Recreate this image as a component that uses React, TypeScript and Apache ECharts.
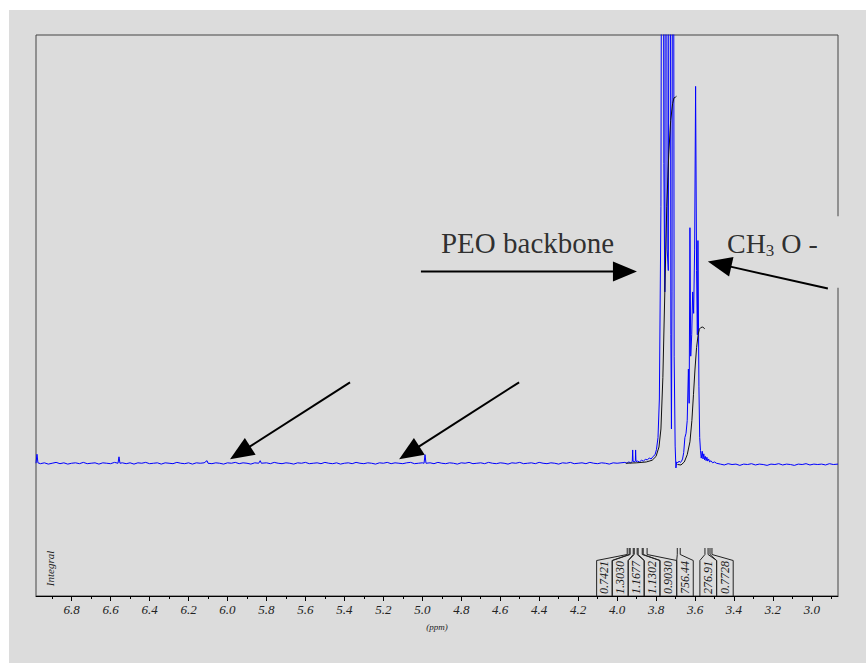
import React, { useEffect, useRef } from "react";
import * as echarts from "echarts";

// ---------------- DATA ----------------
// Spectrum baseline (ppm, intensity) left of the signals
const baselineLeft: [number, number][] = [
  [6.983, 0.0], [6.978, 2.1], [6.973, 0.1], [6.96, -0.1], [6.94, 0.1], [6.92, -0.2], [6.9, 0.0], [6.88, 0.2],
  [6.86, -0.1], [6.84, 0.1], [6.82, -0.2], [6.8, 0.0], [6.78, 0.1], [6.76, -0.1], [6.74, 0.2], [6.72, -0.1],
  [6.7, 0.0], [6.68, 0.1], [6.66, -0.2], [6.64, 0.1], [6.62, 0.0], [6.6, -0.1], [6.58, 0.2], [6.562, 0.0],
  [6.557, 1.5], [6.552, 0.0], [6.54, 0.1], [6.52, -0.1], [6.5, 0.1], [6.48, -0.2], [6.46, 0.1], [6.44, 0.0],
  [6.42, 0.2], [6.4, -0.1], [6.38, 0.0], [6.36, 0.1], [6.34, -0.2], [6.32, 0.1], [6.3, 0.0], [6.28, -0.1],
  [6.26, 0.2], [6.24, 0.0], [6.22, -0.1], [6.2, 0.1], [6.18, -0.2], [6.16, 0.1], [6.14, 0.0], [6.12, 0.1],
  [6.105, 0.6], [6.1, 0.0], [6.08, -0.1], [6.06, 0.1], [6.04, 0.0], [6.02, -0.2], [6.0, 0.1], [5.98, 0.0],
  [5.96, 0.2], [5.94, -0.1], [5.92, 0.1], [5.9, 0.0], [5.88, -0.2], [5.86, 0.1], [5.84, 0.0], [5.832, 0.6],
  [5.826, 0.0], [5.8, 0.1], [5.78, -0.1], [5.76, 0.2], [5.74, 0.0], [5.72, -0.1], [5.7, 0.1], [5.68, 0.0],
  [5.66, -0.2], [5.64, 0.1], [5.62, 0.0], [5.6, 0.2], [5.58, -0.1], [5.56, 0.0], [5.54, 0.1], [5.52, -0.1],
  [5.5, 0.2], [5.48, 0.0], [5.46, -0.1], [5.44, 0.1], [5.42, -0.2], [5.4, 0.0], [5.38, 0.1], [5.36, -0.1],
  [5.34, 0.2], [5.32, 0.0], [5.3, -0.1], [5.28, 0.1], [5.26, 0.0], [5.24, -0.2], [5.22, 0.1], [5.2, 0.0],
  [5.18, 0.2], [5.16, -0.1], [5.14, 0.1], [5.12, 0.0], [5.1, -0.1], [5.08, 0.1], [5.06, 0.2], [5.04, -0.1],
  [5.02, 0.0], [5.0, 0.1], [4.991, 0.0], [4.986, 2.0], [4.981, 0.0], [4.96, 0.1], [4.94, -0.1], [4.92, 0.2],
  [4.9, 0.0], [4.88, -0.1], [4.86, 0.1], [4.84, 0.0], [4.82, -0.2], [4.8, 0.1], [4.78, 0.0], [4.76, 0.2],
  [4.74, -0.1], [4.72, 0.0], [4.7, 0.1], [4.68, -0.1], [4.66, 0.2], [4.64, 0.0], [4.62, -0.1], [4.6, 0.1],
  [4.58, 0.0], [4.56, -0.2], [4.54, 0.1], [4.52, 0.0], [4.5, 0.2], [4.48, -0.1], [4.46, 0.0], [4.44, 0.1],
  [4.42, -0.1], [4.4, 0.2], [4.38, 0.0], [4.36, -0.1], [4.34, 0.1], [4.32, 0.0], [4.3, -0.2], [4.28, 0.1],
  [4.26, 0.0], [4.24, 0.2], [4.22, -0.1], [4.2, 0.0], [4.18, 0.1], [4.16, -0.1], [4.14, 0.2], [4.12, 0.0],
  [4.1, -0.1], [4.08, 0.1], [4.06, 0.0], [4.04, -0.2], [4.02, 0.1], [4.0, 0.0],
];

// Signal region 4.0 - 3.49 ppm
const signalRegion: [number, number][] = [
  [3.98, 0.1], [3.96, 0.2], [3.95, 0.0], [3.94, 0.3], [3.93, 0.1], [3.922, 0.4], [3.92, 3.1], [3.918, 0.5],
  [3.912, 0.3], [3.906, 0.6], [3.905, 3.1], [3.903, 0.4], [3.895, 0.5], [3.885, 0.3], [3.875, 0.7], [3.865, 0.5],
  [3.855, 0.9], [3.845, 0.8], [3.835, 1.2], [3.825, 1.0], [3.815, 1.6], [3.805, 2.0], [3.798, 3.2], [3.79, 6],
  [3.783, 15], [3.775, 60], [3.766, 260], [3.76, 70], [3.755, 40], [3.749, 260], [3.743, 50], [3.737, 45],
  [3.729, 260], [3.724, 30], [3.721, 8], [3.718, 40], [3.713, 260], [3.707, 25], [3.702, 4], [3.698, -1.1],
  [3.694, 0.3], [3.688, 0.1], [3.682, 0.5], [3.676, 0.2], [3.67, 0.4], [3.664, 1.0], [3.658, 2.5], [3.652, 6],
  [3.646, 7], [3.64, 10], [3.634, 22], [3.63, 14], [3.626, 55], [3.622, 25], [3.617, 30], [3.612, 40],
  [3.607, 35], [3.602, 50], [3.597, 88], [3.592, 45], [3.588, 30], [3.585, 52], [3.58, 18], [3.576, 6],
  [3.572, 3], [3.568, 1.2], [3.563, 2.8], [3.559, 1.0], [3.555, 2.2], [3.551, 0.8], [3.547, 1.6], [3.543, 0.6],
  [3.539, 1.4], [3.535, 0.5], [3.53, 1.0], [3.525, 0.3], [3.518, 0.6], [3.51, 0.1], [3.5, 0.3], [3.49, 0.0],
];

// Baseline right of the signals
const baselineRight: [number, number][] = [
  [3.47, -0.2], [3.45, -0.4], [3.43, -0.1], [3.41, -0.3], [3.39, -0.2], [3.37, -0.5], [3.35, -0.2], [3.33, -0.3],
  [3.31, -0.1], [3.29, -0.4], [3.27, -0.2], [3.25, -0.3], [3.23, -0.5], [3.21, -0.2], [3.19, -0.3], [3.17, -0.1],
  [3.15, -0.4], [3.13, -0.2], [3.11, -0.3], [3.09, -0.5], [3.07, -0.2], [3.05, -0.3], [3.03, -0.1], [3.01, -0.4],
  [2.99, -0.2], [2.97, -0.3], [2.95, -0.2], [2.93, -0.4], [2.91, -0.1], [2.89, -0.3], [2.866, -0.2],
];

// Integral curves (ppm, cumulative)
const integralCurve1: [number, number][] = [
  [3.955, 0], [3.9, 0.1], [3.85, 0.3], [3.82, 0.7], [3.8, 1.6], [3.785, 3.8], [3.775, 8], [3.765, 20],
  [3.755, 40], [3.745, 60], [3.735, 72], [3.725, 80], [3.715, 84], [3.708, 85.3], [3.7, 85.5], [3.695, 85.7],
];
const integralCurve2: [number, number][] = [
  [3.69, -0.3], [3.672, -0.4], [3.655, 0.3], [3.64, 2], [3.626, 5], [3.616, 10], [3.608, 16], [3.6, 22],
  [3.592, 27], [3.584, 30], [3.578, 31.3], [3.57, 31.7], [3.56, 31.8], [3.55, 31.4],
];

// Integral table: values, integration regions and label boxes (ppm)
const integralValues: number[] = [0.7421, 1.303, 1.1677, 1.1302, 0.903, 756.44, 276.91, 0.7728];
const integralRanges: [number, number][] = [
  [3.948, 3.938], [3.933, 3.917], [3.912, 3.897], [3.892, 3.871], [3.866, 3.846],
  [3.691, 3.676], [3.549, 3.533], [3.523, 3.513],
];
const integralLabelBoxes: [number, number][] = [
  [4.105, 4.025], [4.025, 3.943], [3.943, 3.861], [3.861, 3.78], [3.78, 3.694],
  [3.694, 3.609], [3.575, 3.489], [3.489, 3.404],
];

// Axis ticks
const majorTicks: number[] = [3.0, 3.2, 3.4, 3.6, 3.8, 4.0, 4.2, 4.4, 4.6, 4.8, 5.0, 5.2, 5.4, 5.6, 5.8, 6.0, 6.2, 6.4, 6.6, 6.8];
const minorTicks: number[] = [2.9, 3.1, 3.3, 3.5, 3.7, 3.9, 4.1, 4.3, 4.5, 4.7, 4.9, 5.1, 5.3, 5.5, 5.7, 5.9, 6.1, 6.3, 6.5, 6.7, 6.9];

// Annotations (ppm, intensity)
const arrows: [number, number, number, number][] = [
  [5.007, 44.8, 3.898, 44.8],
  [2.918, 40.8, 3.534, 47.1],
  [5.371, 18.9, 5.987, 0.93],
  [4.503, 18.9, 5.119, 0.93],
];
const annotationTexts: { pos: [number, number]; text: string }[] = [
  { pos: [4.904, 51.4], text: "{p|PEO backbone}" },
  { pos: [3.436, 51.4], text: "{n|CH}{s|3}{n| O -}" },
];
const coverBox: [number, number, number, number] = [3.462, 57.7, 2.825, 41.0];

const X_MIN = 2.866;
const X_MAX = 6.983;
const SERIF = "Liberation Serif";

export default function App() {
  const ref = useRef<HTMLDivElement>(null);

  useEffect(() => {
    if (!ref.current) return;
    const chart = echarts.init(ref.current, undefined, { renderer: "svg" });

    const spectrum = [...baselineLeft, ...signalRegion, ...baselineRight];

    const TICK_TOP = 0.941;
    const TICK_BOTTOM = 0.814;
    const BOX_TOP = 0.696;
    const TEXT_MID = 0.363;

    const fmtIntegral = (v: number) => (v < 1 ? v.toFixed(4) : v.toPrecision(5));

    const integralData = integralValues.map((v, i) => [
      integralRanges[i][0], integralRanges[i][1], integralLabelBoxes[i][0], integralLabelBoxes[i][1], v,
    ]);

    const gridPos = { left: 27, right: 28 };

    const option: any = {
      animation: false,
      backgroundColor: "#dcdcdc",
      textStyle: { fontFamily: SERIF },
      grid: [
        { ...gridPos, top: 25, bottom: 67, show: true, borderColor: "#444", borderWidth: 1, backgroundColor: "transparent" },
        { ...gridPos, top: 535, bottom: 67, show: false },
        { ...gridPos, top: 535, bottom: 67, show: false },
      ],
      xAxis: [
        { type: "value", gridIndex: 0, min: X_MIN, max: X_MAX, inverse: true, show: false },
        {
          type: "value", gridIndex: 1, min: X_MIN, max: X_MAX, inverse: true, position: "bottom",
          axisLine: { show: true, lineStyle: { color: "#000", width: 1 } },
          axisTick: { show: true, length: 5, lineStyle: { color: "#000" }, customValues: majorTicks },
          axisLabel: {
            show: true, customValues: majorTicks, margin: 7,
            formatter: (v: number) => `{i|${v.toFixed(1)}}`,
            rich: { i: { fontFamily: SERIF, fontStyle: "italic", fontSize: 13, color: "#222" } },
          },
          splitLine: { show: false },
          name: "(ppm)", nameLocation: "middle", nameGap: 26,
          nameTextStyle: { fontFamily: SERIF, fontStyle: "italic", fontSize: 9, color: "#222" },
        },
        {
          type: "value", gridIndex: 2, min: X_MIN, max: X_MAX, inverse: true, position: "bottom",
          axisLine: { show: false },
          axisTick: { show: true, length: 3, lineStyle: { color: "#000" }, customValues: minorTicks },
          axisLabel: { show: false },
          splitLine: { show: false },
        },
      ],
      yAxis: [
        { type: "value", gridIndex: 0, min: -31, max: 100, show: false },
        { type: "value", gridIndex: 1, min: 0, max: 1, show: false },
        { type: "value", gridIndex: 2, min: 0, max: 1, show: false },
      ],
      graphic: [
        {
          type: "text", x: 40.5, y: 558.5, rotation: Math.PI / 2, silent: true,
          style: { text: "Integral", font: `italic 11px ${SERIF}`, fill: "#222", textAlign: "center", textVerticalAlign: "middle" },
        },
      ],
      series: [
        {
          type: "line", xAxisIndex: 0, yAxisIndex: 0, data: spectrum, showSymbol: false, symbol: "none",
          lineStyle: { color: "#0000ff", width: 1 }, silent: true, clip: true, z: 3,
        },
        {
          type: "line", xAxisIndex: 0, yAxisIndex: 0, data: integralCurve1, showSymbol: false, symbol: "none",
          lineStyle: { color: "#111", width: 1 }, silent: true, z: 4,
        },
        {
          type: "line", xAxisIndex: 0, yAxisIndex: 0, data: integralCurve2, showSymbol: false, symbol: "none",
          lineStyle: { color: "#111", width: 1 }, silent: true, z: 4,
        },
        {
          type: "custom", xAxisIndex: 0, yAxisIndex: 0, clip: false, silent: true, z: 5,
          data: [coverBox],
          renderItem: (_p: any, api: any) => {
            const a = api.coord([api.value(0), api.value(1)]);
            const b = api.coord([api.value(2), api.value(3)]);
            return {
              type: "rect",
              shape: { x: a[0], y: a[1], width: b[0] - a[0], height: b[1] - a[1] },
              style: { fill: "#dcdcdc" },
            };
          },
        },
        {
          type: "custom", xAxisIndex: 0, yAxisIndex: 0, clip: false, silent: true, z: 6,
          data: arrows,
          renderItem: (_p: any, api: any) => {
            const p1 = api.coord([api.value(0), api.value(1)]);
            const p2 = api.coord([api.value(2), api.value(3)]);
            const dx = p2[0] - p1[0];
            const dy = p2[1] - p1[1];
            const len = Math.hypot(dx, dy);
            const ux = dx / len;
            const uy = dy / len;
            const L = 24;
            const W = 10;
            const base = [p2[0] - ux * L, p2[1] - uy * L];
            const left = [base[0] - uy * W, base[1] + ux * W];
            const right = [base[0] + uy * W, base[1] - ux * W];
            return {
              type: "group",
              children: [
                { type: "line", shape: { x1: p1[0], y1: p1[1], x2: base[0] + ux * 2, y2: base[1] + uy * 2 }, style: { stroke: "#000", lineWidth: 2 } },
                { type: "polygon", shape: { points: [p2, left, right] }, style: { fill: "#000" } },
              ],
            };
          },
        },
        {
          type: "scatter", xAxisIndex: 0, yAxisIndex: 0, symbolSize: 0, silent: true, z: 7,
          data: annotationTexts.map((t) => ({ value: t.pos, label: { formatter: t.text } })),
          label: {
            show: true, position: "right", distance: 0, color: "#000",
            fontFamily: SERIF, fontSize: 28, lineHeight: 32,
            rich: {
              p: { fontFamily: SERIF, fontSize: 29, lineHeight: 32, color: "#000" },
              n: { fontFamily: SERIF, fontSize: 28, lineHeight: 32, color: "#000" },
              s: { fontFamily: SERIF, fontSize: 17, lineHeight: 17, verticalAlign: "bottom", color: "#000" },
            },
          },
        },
        {
          type: "custom", xAxisIndex: 1, yAxisIndex: 1, clip: false, silent: true,
          data: integralData,
          renderItem: (params: any, api: any) => {
            const rs = api.value(0);
            const re = api.value(1);
            const bl = api.value(2);
            const br = api.value(3);
            const P = (x: number, f: number) => api.coord([x, f]);
            const l1 = [P(bl, 0), P(bl, BOX_TOP), P(rs, TICK_BOTTOM), P(rs, TICK_TOP)];
            const l2 = [P(br, 0), P(br, BOX_TOP), P(re, TICK_BOTTOM), P(re, TICK_TOP)];
            const c = P((bl + br) / 2, TEXT_MID);
            const label = fmtIntegral(integralValues[params.dataIndex]);
            return {
              type: "group",
              children: [
                { type: "polyline", shape: { points: l1 }, style: { stroke: "#222", lineWidth: 1, fill: "none" } },
                { type: "polyline", shape: { points: l2 }, style: { stroke: "#222", lineWidth: 1, fill: "none" } },
                {
                  type: "text", x: c[0], y: c[1], rotation: Math.PI / 2,
                  style: { text: label, font: `italic 12px ${SERIF}`, fill: "#111", textAlign: "center", textVerticalAlign: "middle" },
                },
              ],
            };
          },
        },
      ],
    };

    chart.setOption(option);
    return () => chart.dispose();
  }, []);

  return (
    <div
      ref={ref}
      style={{ position: "absolute", left: 9, top: 10, width: 857, height: 653 }}
    />
  );
}
